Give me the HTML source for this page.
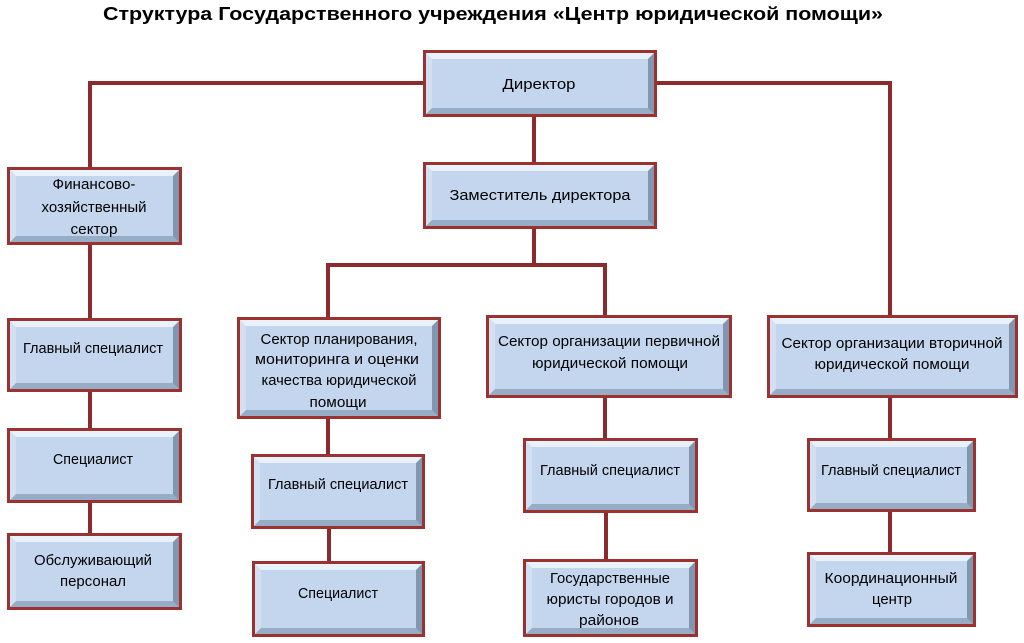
<!DOCTYPE html>
<html><head><meta charset="utf-8">
<style>
html,body{margin:0;padding:0;background:#fff;}
#wrap{position:relative;width:1024px;height:643px;overflow:hidden;background:#fff;}
svg{position:absolute;left:0;top:0;}
.b{position:absolute;box-sizing:border-box;border:3px solid #9a3232;background:#c3d6ee;}
.b>div{position:absolute;left:0;top:0;right:0;bottom:0;border-style:solid;border-width:6px;border-color:#e9f1fb #8197b0 #97adc6 #d2e0f1;background:#c3d6ee;}
</style></head><body>
<div id="wrap">
<svg width="1024" height="643" viewBox="0 0 1024 643">
<g stroke="#8c2b2b" stroke-width="4" fill="none" stroke-linecap="square">
<polyline points="423,83 90,83 90,167"/>
<polyline points="657,83 890,83 890,315"/>
<line x1="90" y1="245" x2="90" y2="318"/>
<line x1="90" y1="392" x2="90" y2="428"/>
<line x1="90" y1="503" x2="90" y2="533"/>
<line x1="534" y1="117" x2="534" y2="162"/>
<line x1="534" y1="229" x2="534" y2="265"/>
<polyline points="328,317 328,265 605,265 605,315"/>
<line x1="328" y1="419" x2="328" y2="454"/>
<line x1="329" y1="529" x2="329" y2="561"/>
<line x1="605" y1="398" x2="605" y2="438"/>
<line x1="606" y1="513" x2="606" y2="559"/>
<line x1="890" y1="398" x2="890" y2="438"/>
<line x1="890" y1="512" x2="890" y2="552"/>
</g>
</svg>

<div class="b" style="left:423px;top:50px;width:234px;height:67px;"><div></div></div>
<div class="b" style="left:423px;top:162px;width:234px;height:67px;"><div></div></div>
<div class="b" style="left:7px;top:167px;width:175px;height:78px;"><div></div></div>
<div class="b" style="left:7px;top:318px;width:175px;height:74px;"><div></div></div>
<div class="b" style="left:7px;top:428px;width:175px;height:75px;"><div></div></div>
<div class="b" style="left:7px;top:533px;width:175px;height:77px;"><div></div></div>
<div class="b" style="left:237px;top:317px;width:204px;height:102px;"><div></div></div>
<div class="b" style="left:251px;top:454px;width:174px;height:75px;"><div></div></div>
<div class="b" style="left:252px;top:561px;width:173px;height:76px;"><div></div></div>
<div class="b" style="left:486px;top:315px;width:246px;height:83px;"><div></div></div>
<div class="b" style="left:523px;top:438px;width:175px;height:75px;"><div></div></div>
<div class="b" style="left:523px;top:559px;width:175px;height:78px;"><div></div></div>
<div class="b" style="left:767px;top:315px;width:251px;height:83px;"><div></div></div>
<div class="b" style="left:807px;top:438px;width:169px;height:74px;"><div></div></div>
<div class="b" style="left:807px;top:552px;width:169px;height:75px;"><div></div></div>

<svg width="1024" height="643" viewBox="0 0 1024 643" font-family="'Liberation Sans', sans-serif">
<text x="493" y="20" font-size="18" font-weight="bold" text-anchor="middle" textLength="780" lengthAdjust="spacingAndGlyphs">Структура Государственного учреждения «Центр юридической помощи»</text>
<g font-size="15" fill="#000" text-anchor="middle" lengthAdjust="spacingAndGlyphs">
<text x="539" y="89" textLength="73" lengthAdjust="spacingAndGlyphs">Директор</text>
<text x="540" y="200" textLength="181" lengthAdjust="spacingAndGlyphs">Заместитель директора</text>
<text x="94" y="189" textLength="83" lengthAdjust="spacingAndGlyphs">Финансово-</text>
<text x="94" y="212" textLength="105" lengthAdjust="spacingAndGlyphs">хозяйственный</text>
<text x="94" y="234" textLength="47" lengthAdjust="spacingAndGlyphs">сектор</text>
<text x="93" y="353" textLength="140" lengthAdjust="spacingAndGlyphs">Главный специалист</text>
<text x="93" y="464" textLength="80" lengthAdjust="spacingAndGlyphs">Специалист</text>
<text x="93" y="565" textLength="118" lengthAdjust="spacingAndGlyphs">Обслуживающий</text>
<text x="93" y="586" textLength="66" lengthAdjust="spacingAndGlyphs">персонал</text>
<text x="339" y="344" textLength="157" lengthAdjust="spacingAndGlyphs">Сектор планирования,</text>
<text x="337" y="364" textLength="164" lengthAdjust="spacingAndGlyphs">мониторинга и оценки</text>
<text x="339" y="385" textLength="155" lengthAdjust="spacingAndGlyphs">качества юридической</text>
<text x="338" y="407" textLength="57" lengthAdjust="spacingAndGlyphs">помощи</text>
<text x="338" y="489" textLength="140" lengthAdjust="spacingAndGlyphs">Главный специалист</text>
<text x="338" y="598" textLength="80" lengthAdjust="spacingAndGlyphs">Специалист</text>
<text x="609" y="346" textLength="222" lengthAdjust="spacingAndGlyphs">Сектор организации первичной</text>
<text x="610" y="368" textLength="156" lengthAdjust="spacingAndGlyphs">юридической помощи</text>
<text x="610" y="475" textLength="140" lengthAdjust="spacingAndGlyphs">Главный специалист</text>
<text x="610" y="583" textLength="120" lengthAdjust="spacingAndGlyphs">Государственные</text>
<text x="610" y="604" textLength="127" lengthAdjust="spacingAndGlyphs">юристы городов и</text>
<text x="609" y="625" textLength="60" lengthAdjust="spacingAndGlyphs">районов</text>
<text x="892" y="348" textLength="221" lengthAdjust="spacingAndGlyphs">Сектор организации вторичной</text>
<text x="892" y="369" textLength="155" lengthAdjust="spacingAndGlyphs">юридической помощи</text>
<text x="891" y="475" textLength="140" lengthAdjust="spacingAndGlyphs">Главный специалист</text>
<text x="891" y="583" textLength="133" lengthAdjust="spacingAndGlyphs">Координационный</text>
<text x="892" y="604" textLength="40" lengthAdjust="spacingAndGlyphs">центр</text>
</g>
</svg>
</div>
</body></html>
